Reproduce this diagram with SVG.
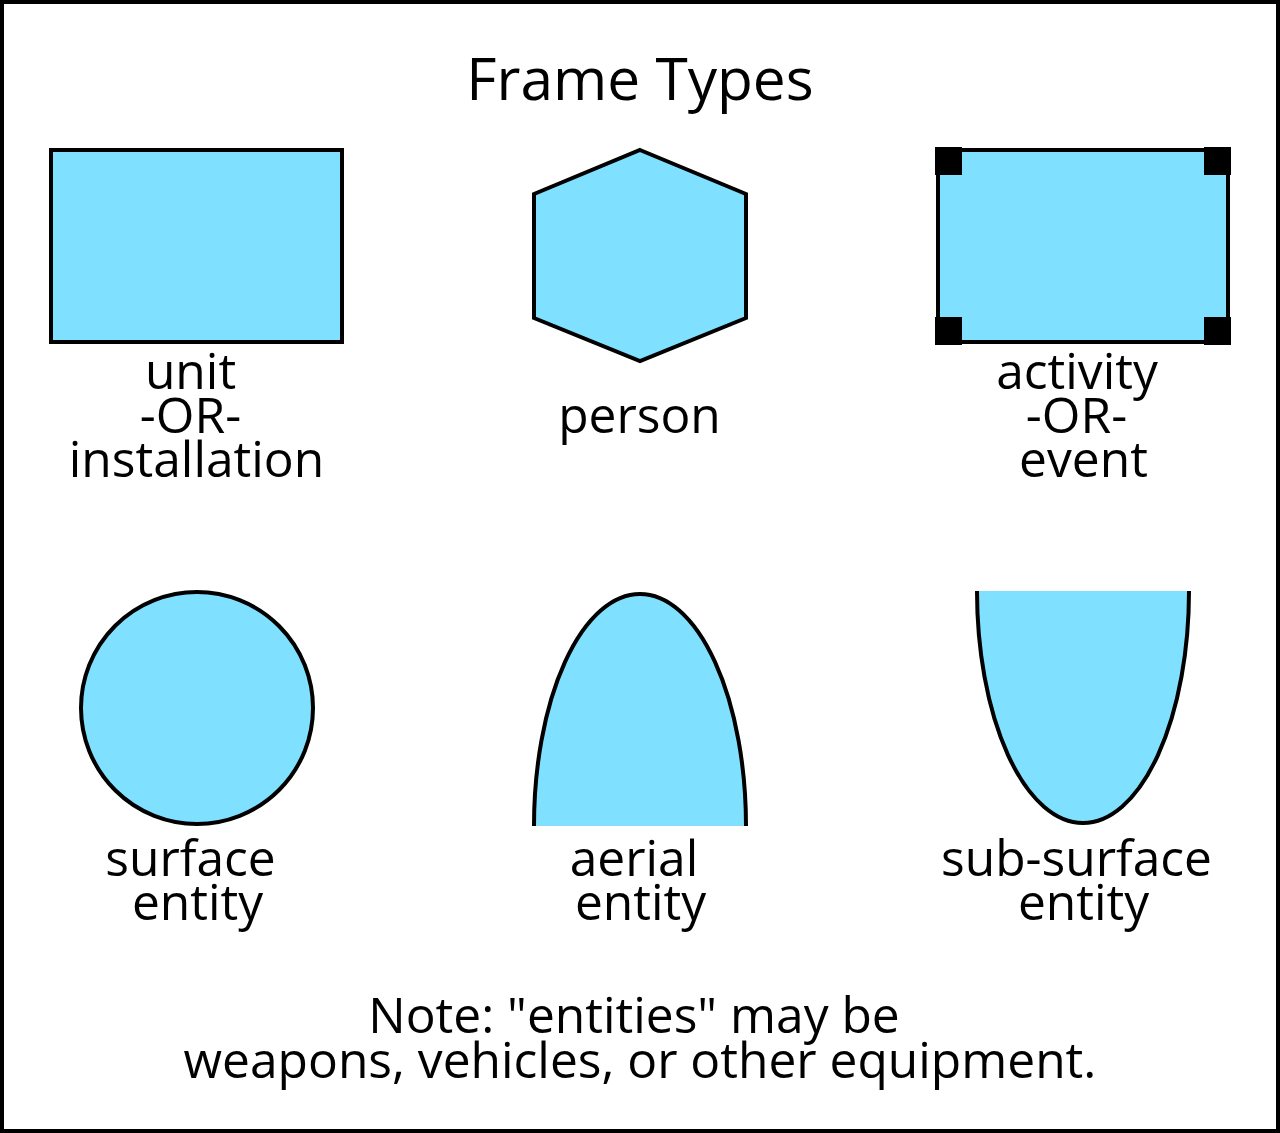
<svg xmlns="http://www.w3.org/2000/svg" width="1280" height="1133" viewBox="0 0 1280 1133">
<style>
.frame{fill:#80E0FF;stroke:#000;stroke-width:4}
.fillonly{fill:#80E0FF;stroke:none}
.edge{fill:none;stroke:#000;stroke-width:4}
text{font-family:"Open Sans","Noto Sans",sans-serif;fill:#000;text-anchor:middle}
.lbl{font-size:49.7px}
.title{font-size:58.6px}
</style>
<rect x="2" y="2" width="1276" height="1129" fill="#fff" stroke="#000" stroke-width="4"/>
<text class="title" x="640" y="100">Frame Types</text>
<g id="unit">
<rect class="frame" x="51" y="150" width="291" height="192"/>
<text class="lbl" x="190.5" y="389">unit</text>
<text class="lbl" x="190.5" y="433">-OR-</text>
<text class="lbl" x="196.5" y="477">installation</text>
</g>
<g id="person">
<polygon class="frame" points="640,150 746,194 746,318 640,361 534,318 534,194"/>
<text class="lbl" x="639.5" y="433">person</text>
</g>
<g id="activity">
<rect class="frame" x="938" y="150" width="290" height="192"/>
<rect x="935" y="147" width="27" height="28"/>
<rect x="1204" y="147" width="27" height="28"/>
<rect x="935" y="317" width="27" height="28"/>
<rect x="1204" y="317" width="27" height="28"/>
<text class="lbl" x="1077" y="389">activity</text>
<text class="lbl" x="1076.5" y="433">-OR-</text>
<text class="lbl" x="1083.5" y="477">event</text>
</g>
<g id="surface">
<circle class="frame" cx="197" cy="708" r="116"/>
<text class="lbl" x="190.5" y="876">surface</text>
<text class="lbl" x="197.5" y="920">entity</text>
</g>
<g id="aerial">
<path class="fillonly" d="M534,826 A106,232 0 0 1 746,826 Z"/>
<path class="edge" d="M534,826 A106,232 0 0 1 746,826"/>
<text class="lbl" x="634" y="876">aerial</text>
<text class="lbl" x="640.5" y="920">entity</text>
</g>
<g id="subsurface">
<path class="fillonly" d="M977,591 A106,232 0 0 0 1189,591 Z"/>
<path class="edge" d="M977,591 A106,232 0 0 0 1189,591"/>
<text class="lbl" x="1076.5" y="876">sub-surface</text>
<text class="lbl" x="1083.5" y="920">entity</text>
</g>
<g id="note">
<text class="lbl" x="634" y="1033">Note: "entities" may be</text>
<text class="lbl" x="640" y="1078">weapons, vehicles, or other equipment.</text>
</g>
<g id="connectors"/>
</svg>
